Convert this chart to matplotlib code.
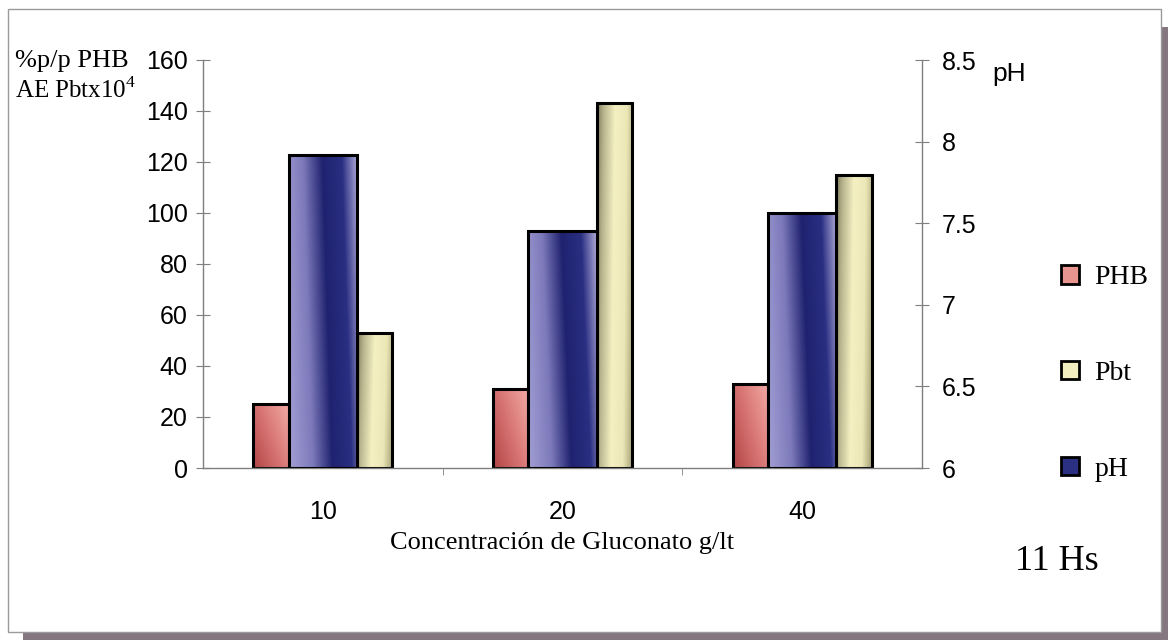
import numpy as np
import matplotlib
matplotlib.use("Agg")
import matplotlib.pyplot as plt
from matplotlib.colors import LinearSegmentedColormap
from matplotlib.patches import Patch, Rectangle

# Data: concentration groups and measured values at 11 h
conc = ["10", "20", "40"]
phb = [25, 31, 33]          # %p/p PHB
pbt = [53, 143, 115]        # AE Pbt x10^4
ph = [7.92, 7.45, 7.56]     # pH (right axis)

SANS = "Liberation Sans"
SERIF = "Liberation Serif"
plt.rcParams["mathtext.fontset"] = "custom"
plt.rcParams["mathtext.rm"] = SERIF

W, H = 1168, 640
fig = plt.figure(figsize=(W / 100, H / 100), dpi=100, facecolor="white")


def fx(px):
    return px / W


def fy(py):
    return 1 - py / H


# outer frame with a drop shadow
fig.add_artist(Rectangle((fx(1161), 0), fx(7), fy(27), transform=fig.transFigure,
                         facecolor="#857780", edgecolor="none"))
fig.add_artist(Rectangle((fx(23), 0), 1 - fx(23), fy(632), transform=fig.transFigure,
                         facecolor="#857780", edgecolor="none"))
fig.add_artist(Rectangle((fx(8), fy(632)), fx(1161 - 8), fy(9) - fy(632),
                         transform=fig.transFigure, fill=False,
                         edgecolor="#9a9a9a", linewidth=1))

ax = fig.add_axes([fx(203), fy(468), fx(922 - 203), fy(60) - fy(468)])
ax2 = ax.twinx()

cm_phb = LinearSegmentedColormap.from_list("phb", ["#b04545", "#d87674", "#f3aba6"])
cm_pbt = LinearSegmentedColormap.from_list(
    "pbt", [(0, "#7d7a58"), (0.15, "#b4b08a"), (0.45, "#f4f0c2"),
            (0.75, "#ece7b6"), (1, "#a39f76")])
cm_ph = LinearSegmentedColormap.from_list(
    "ph", [(0, "#a29ed4"), (0.3, "#7d7abb"), (0.55, "#1f226f"),
           (0.8, "#2a2f82"), (1, "#b0aad9")])


def fill_gradient(axis, rect, cmap, mix):
    """Paint a gradient inside a bar rectangle; mix weights across / downward."""
    x0, y0 = rect.get_x(), rect.get_y()
    w, h = rect.get_width(), rect.get_height()
    u = np.linspace(0, 1, 80)[None, :]
    d = np.linspace(0, 1, 300)[:, None]  # 0 at top, 1 at bottom
    t = mix[0] * u + mix[1] * d
    t = (t - t.min()) / (t.max() - t.min())
    img = axis.imshow(t, cmap=cmap, extent=(x0, x0 + w, y0, y0 + h),
                      aspect="auto", origin="upper", zorder=1,
                      interpolation="bilinear")
    img.set_clip_path(rect)


x = np.arange(len(conc))
side_w = 0.148
mid_w = 0.284
offs = mid_w / 2 + side_w / 2

bars_phb = ax.bar(x - offs, phb, side_w, facecolor="none",
                  edgecolor="black", linewidth=2.2, zorder=2)
bars_pbt = ax.bar(x + offs, pbt, side_w, facecolor="none",
                  edgecolor="black", linewidth=2.2, zorder=2)
bars_ph = ax2.bar(x, np.array(ph) - 6, mid_w, bottom=6, facecolor="none",
                  edgecolor="black", linewidth=2.2, zorder=2)

for r in bars_phb:
    fill_gradient(ax, r, cm_phb, (0.6, -0.4))
for r in bars_pbt:
    fill_gradient(ax, r, cm_pbt, (1.0, 0.12))
for r in bars_ph:
    fill_gradient(ax2, r, cm_ph, (1.0, -0.15))

ax.set_xlim(-0.5, 2.5)
ax.set_ylim(0, 160)
ax2.set_ylim(6, 8.5)

grey = "#7f7f7f"
ax.set_facecolor("none")
for s in ["top", "right"]:
    ax.spines[s].set_visible(False)
for s in ["top", "left", "bottom"]:
    ax2.spines[s].set_visible(False)
for sp in [ax.spines["left"], ax.spines["bottom"], ax2.spines["right"]]:
    sp.set_color(grey)
    sp.set_linewidth(1)

ax.set_yticks(np.arange(0, 161, 20))
ax2.set_yticks([6, 6.5, 7, 7.5, 8, 8.5])
ax2.set_yticklabels(["6", "6.5", "7", "7.5", "8", "8.5"])
ax.tick_params(axis="y", direction="inout", length=10, color=grey,
               labelsize=18, pad=6)
ax2.tick_params(axis="y", direction="inout", length=10, color=grey,
                labelsize=18, pad=9)
for lab in ax.get_yticklabels() + ax2.get_yticklabels():
    lab.set_fontfamily(SANS)

ax.set_xticks(x)
ax.set_xticklabels(conc, fontfamily=SANS, fontsize=18)
ax.set_xticks([0.5, 1.5], minor=True)
ax.tick_params(axis="x", which="major", length=0, pad=23)
ax.tick_params(axis="x", which="minor", direction="out", length=5, color=grey)

ax.set_xlabel("Concentración de Gluconato g/lt", fontfamily=SERIF,
              fontsize=19, labelpad=6)

# axis titles
fig.text(fx(15), fy(67), "%p/p PHB", fontfamily=SERIF, fontsize=19, va="baseline")
fig.text(fx(15), fy(98), r"AE Pbtx10$^{\mathregular{4}}$", fontfamily=SERIF,
         fontsize=18, va="baseline")
fig.text(fx(992), fy(81), "pH", fontfamily=SANS, fontsize=19, va="baseline")
fig.text(fx(1015), fy(570), "11 Hs", fontfamily=SERIF, fontsize=26, va="baseline")

handles = [
    Patch(facecolor="#e9958f", edgecolor="black", linewidth=2),
    Patch(facecolor="#f2eec0", edgecolor="black", linewidth=2),
    Patch(facecolor="#2b3082", edgecolor="black", linewidth=2),
]
fig.legend(handles, ["PHB", "Pbt", "pH"], loc="upper left",
           bbox_to_anchor=(fx(1061), fy(265)), frameon=False,
           prop={"family": SERIF, "size": 20}, handlelength=0.65,
           handleheight=0.65, handletextpad=0.55, labelspacing=2.55,
           borderpad=0, borderaxespad=0)

fig.savefig("out.png", dpi=100, facecolor="white")
